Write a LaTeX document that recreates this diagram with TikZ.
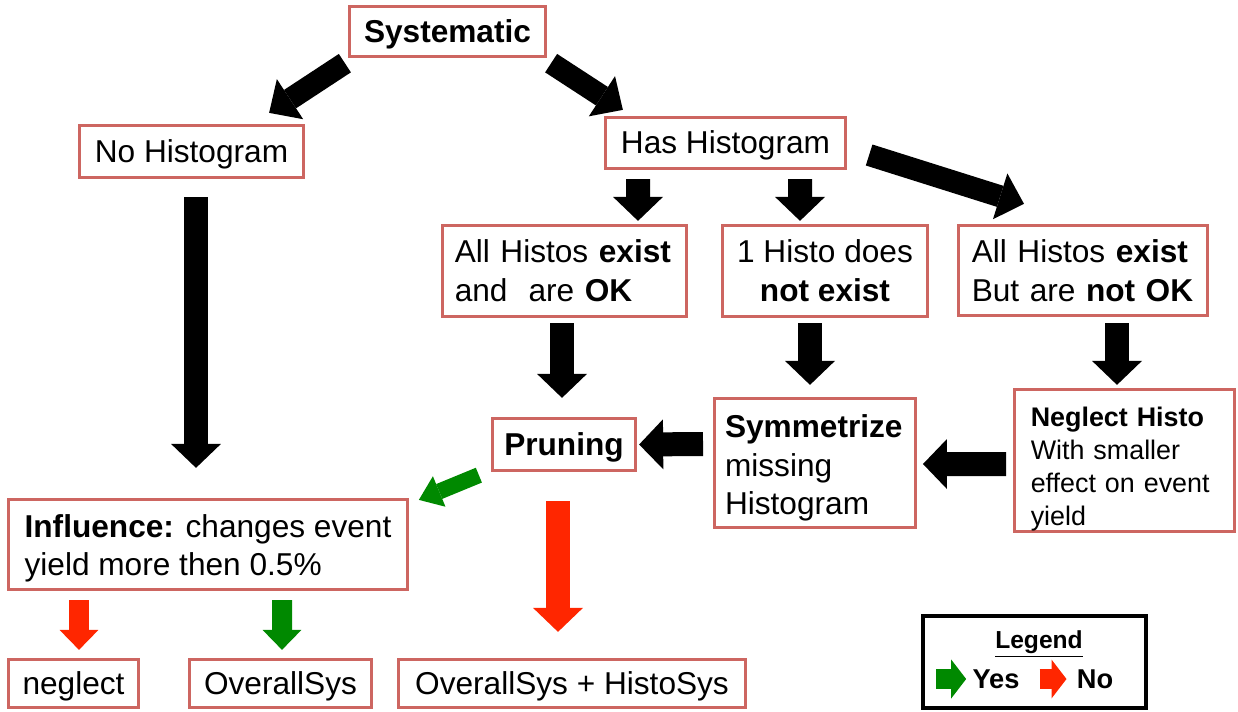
\documentclass[tikz,border=0pt]{standalone}
\usepackage{fontspec}
\setmainfont{Liberation Sans}
\usepackage{tikz}
\usetikzlibrary{
	arrows.meta
}

\definecolor{boxred}{RGB}{205,102,97}
\definecolor{yesgreen}{RGB}{0,137,0}
\definecolor{nored}{RGB}{255,38,0}

\tikzset{
	box/.style={draw=boxred, line width=0.066cm, fill=white, inner sep=0pt,
		font=\fontsize{18}{22}\selectfont},
	onebox/.style={box, text height=16.3pt, text depth=3.8pt},
	textbox/.style={box, align=left, inner xsep=#1},
	legendtext/.style={inner sep=0pt, font=\fontsize{15.5}{18}\selectfont\bfseries},
	% block arrows: shaft width, head width, head length
	blockarrow/.style n args={3}{line width=#1,
		-{Triangle[width=#2, length=#3, line width=0pt]}},
	bigarrow/.style={blockarrow={0.48cm}{1cm}{0.48cm}},
	tiltarrow/.style={blockarrow={0.44cm}{0.96cm}{0.5cm}},
	lowarrow/.style={blockarrow={0.4cm}{0.78cm}{0.4cm}},
	keyarrow/.style={blockarrow={0.4cm}{0.78cm}{0.3cm}}
}

\begin{document}
\begin{tikzpicture}[x=0.02cm, y=-0.02cm]
	\useasboundingbox (0,0) rectangle (1238,711);
	\draw
		node[onebox, minimum width=3.92cm, minimum height=1cm]    (sys)     at (447.5,31.5) {\bfseries Systematic}
		node[onebox, minimum width=4.48cm, minimum height=1.04cm] (nohisto) at (191.5,151.5) {No Histogram}
		node[onebox, minimum width=4.8cm, minimum height=1.02cm]  (has)     at (725.5,143)  {Has Histogram}

		node[textbox=0.24cm, text width=4.39cm, minimum height=1.82cm] (allok)   at (564.5,271) {All Histos \textbf{exist}\\and~ are \textbf{OK}}
		node[box, align=center, minimum width=4.1cm, minimum height=1.82cm] (onemiss) at (825,271) {1 Histo does\\\textbf{not exist}}
		node[textbox=0.26cm, text width=4.45cm, minimum height=1.8cm]  (notok)   at (1083,270.5) {All Histos \textbf{exist}\\But are \textbf{not OK}}

		node[onebox, minimum width=2.86cm, minimum height=1.04cm] (pruning) at (564,444.5) {\bfseries Pruning}
		node[textbox=0.207cm, text width=3.6cm, minimum height=2.58cm] (sym) at (815,463) {\rule{0pt}{18.9pt}\textbf{Symmetrize}\\missing\\Histogram}
		node[textbox=0.32cm, text width=3.75cm, minimum height=2.84cm,
			font=\fontsize{15.3}{18.77}\selectfont] (neg) at (1124.5,460.5) {\rule{0pt}{20.8pt}\textbf{Neglect Histo}\\With smaller\\effect on event\\yield}

		node[box, align=left, minimum width=7.97cm, minimum height=1.8cm] (infl) at (208,544.5) {\rule{0pt}{17.2pt}\textbf{Influence:} changes event\\yield more then 0.5\%}
		node[onebox, minimum width=2.6cm, minimum height=0.96cm]  (neglect) at (73.5,683.5) {neglect}
		node[onebox, minimum width=3.64cm, minimum height=0.96cm] (overall) at (280.5,683.5) {OverallSys}
		node[onebox, minimum width=6.94cm, minimum height=0.96cm] (both)    at (572,683.5) {OverallSys + HistoSys}

		% black arrows
		([shift={(-3,5)}]sys.south west)   edge[tiltarrow] ([shift={(-36,-11)}]nohisto.north east)
		([shift={(4,5)}]sys.south east)    edge[tiltarrow] ([shift={(19,-6)}]has.north west)
		([shift={(22,12)}]has.east)        edge[tiltarrow] ([shift={(-59,-20)}]notok.north)
		([shift={(-87.5,9)}]has.south)     edge[bigarrow]  ([shift={(73.5,-3)}]allok.north)
		([shift={(74.5,9)}]has.south)      edge[bigarrow]  ([shift={(-25,-3)}]onemiss.north)
		([shift={(4.5,18)}]nohisto.south)  edge[bigarrow]  ([shift={(-12,-30)}]infl.north)
		([shift={(-2.5,5)}]allok.south)    edge[bigarrow]  ([shift={(-2,-19)}]pruning.north)
		([shift={(-15,5)}]onemiss.south)   edge[bigarrow]  ([shift={(-5,-12)}]sym.north)
		([shift={(34,6)}]notok.south)      edge[bigarrow]  ([shift={(-7.5,-3)}]neg.north)
		([shift={(-10,-19)}]sym.west)      edge[bigarrow]  ([shift={(2,0)}]pruning.east)
		([shift={(-7,3.5)}]neg.west)       edge[bigarrow]  ([shift={(6,1)}]sym.east)

		% yes / no arrows
		([shift={(-12,3)}]pruning.south west) edge[blockarrow={0.32cm}{0.66cm}{0.44cm}, draw=yesgreen] ([shift={(10,2)}]infl.north east)
		([shift={(-6,29)}]pruning.south)      edge[bigarrow, draw=nored]    ([shift={(-14,-26)}]both.north)
		([shift={(-129,9)}]infl.south)        edge[lowarrow, draw=nored]    ([shift={(5.5,-8)}]neglect.north)
		([shift={(74,9)}]infl.south)          edge[lowarrow, draw=yesgreen] ([shift={(1.5,-8)}]overall.north)
	;

	% legend
	\node[draw, line width=0.08cm, minimum width=4.46cm, minimum height=1.84cm] (legend) at (1034.5,662) {};
	\node[inner sep=0pt, font=\fontsize{14}{16}\selectfont\bfseries] (legendtitle) at ([shift={(4.5,-18)}]legend.center) {\underline{Legend}};
	\node[legendtext] (yes) at ([shift={(-38.5,17)}]legend.center) {Yes};
	\node[legendtext] (no)  at ([shift={(60.5,17)}]legend.center) {No};
	\draw[keyarrow, draw=yesgreen] ([shift={(-36,0)}]yes.west) -- ([shift={(-6,0)}]yes.west);
	\draw[keyarrow, draw=nored]    ([shift={(-37,0)}]no.west)  -- ([shift={(-10,0)}]no.west);
\end{tikzpicture}
\end{document}
